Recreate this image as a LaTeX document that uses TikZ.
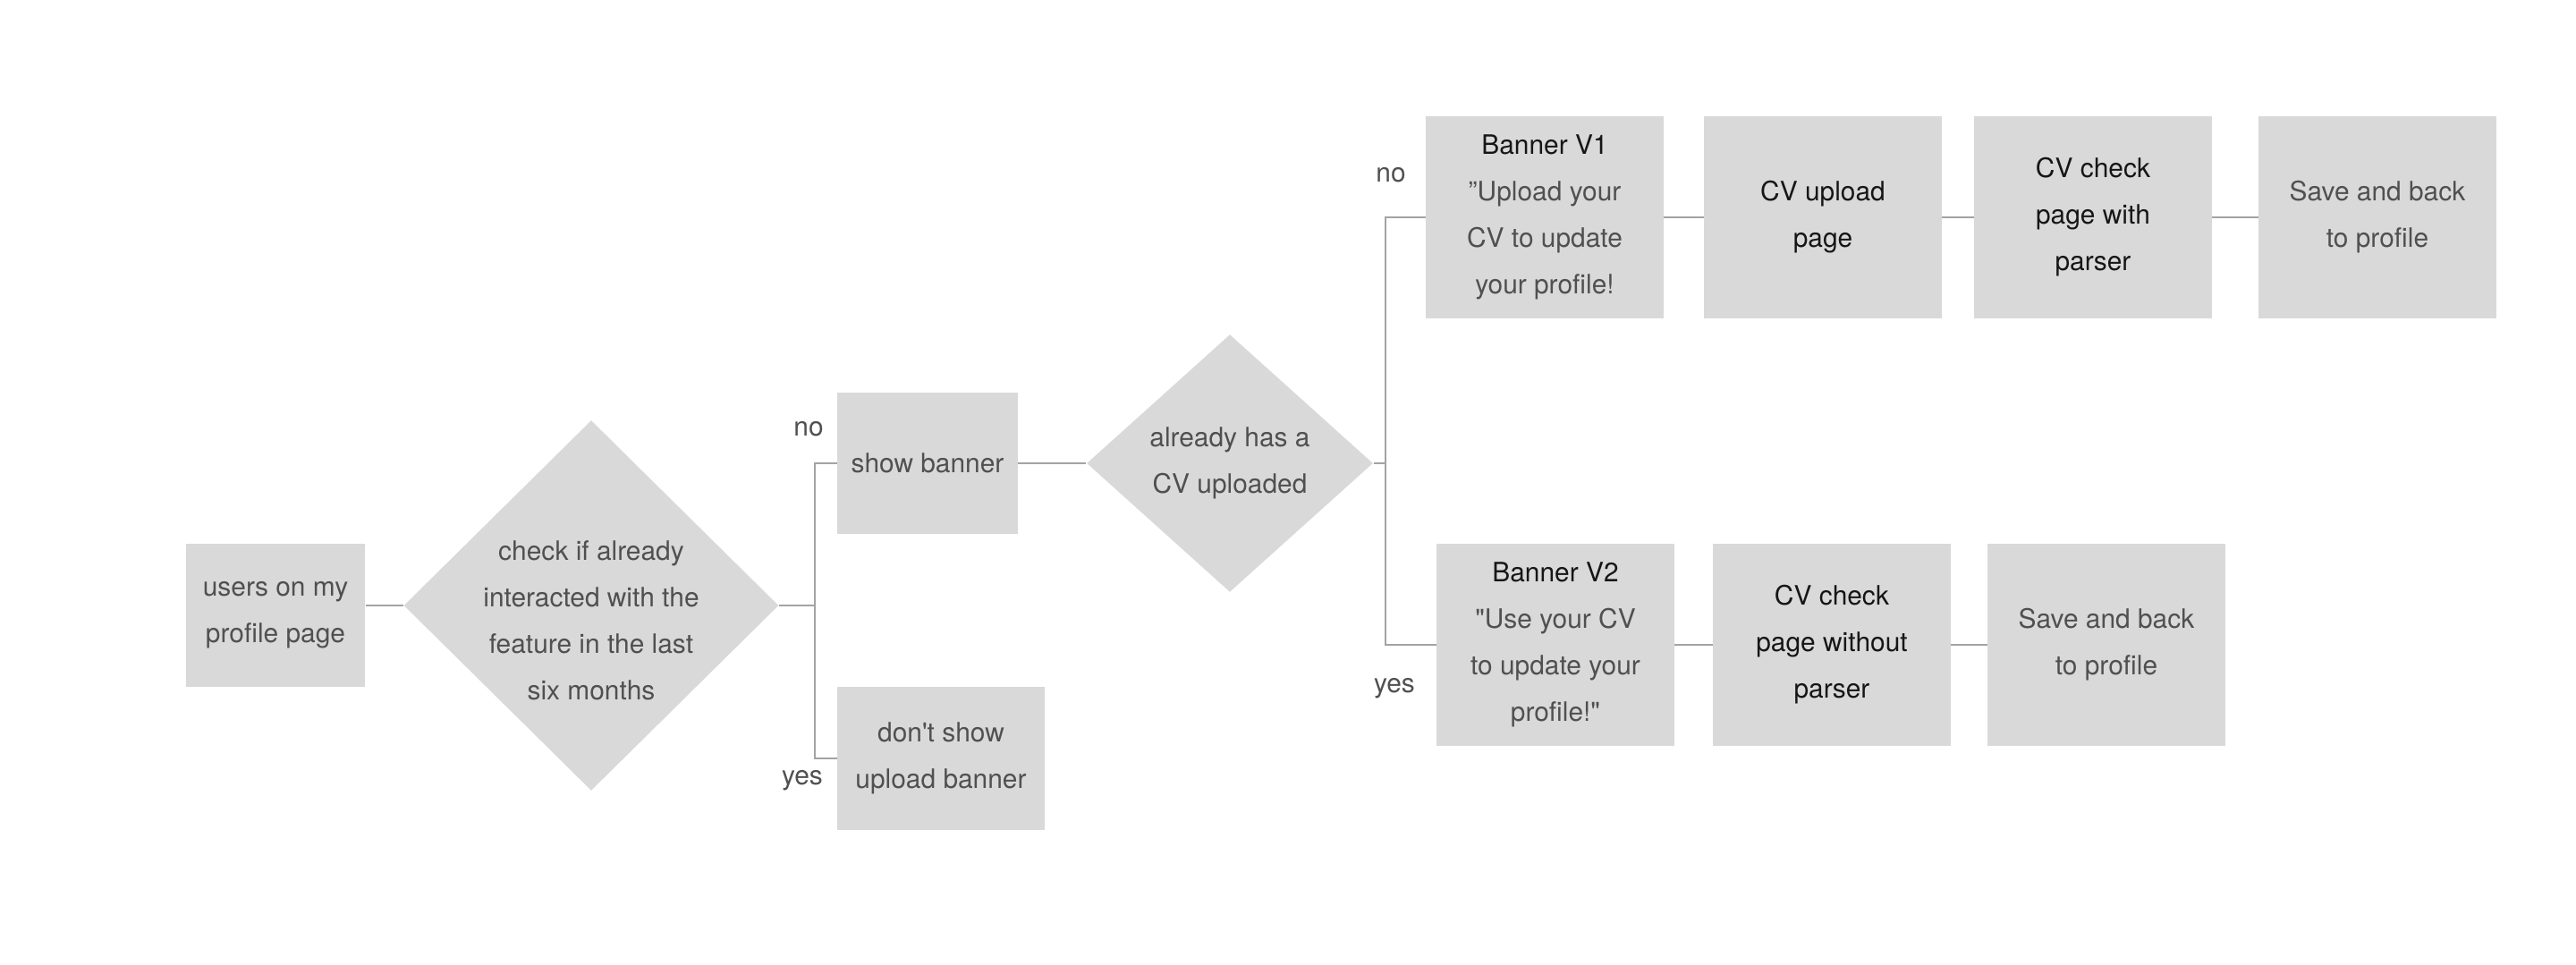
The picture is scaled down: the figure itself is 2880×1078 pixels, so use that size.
\documentclass[tikz,border=0pt]{standalone}
\usepackage{fontspec}
\setmainfont{TeX Gyre Heros}
\usetikzlibrary{shapes.geometric,positioning}
\definecolor{boxfill}{HTML}{D9D9D9}
\definecolor{linegray}{HTML}{A3A3A3}
\definecolor{lighttext}{HTML}{505050}
\definecolor{darktext}{HTML}{161616}

\begin{document}
\begin{tikzpicture}[x=0.01cm,y=-0.01cm,
	every node/.style={font=\fontsize{8.5}{14.8}\selectfont,text=lighttext},
	box/.style={fill=boxfill,align=center,inner sep=0pt,minimum width=2.65cm,minimum height=2.26cm},
	choice/.style={diamond,fill=boxfill,align=center,inner sep=0pt},
	link/.style={draw=linegray,line width=0.6pt}]
\useasboundingbox (0,0) rectangle (2880,1078);

\node[box,minimum width=2cm,minimum height=1.6cm] (users) at (308,688) {users on my\\profile page};
\node[choice,minimum width=4.19cm,minimum height=4.14cm,
	label={[align=center,yshift=-0.17cm]center:check if already\\interacted with the\\feature in the last\\six months}] (check) at (661,677) {};
\node[box,minimum width=2.01cm,minimum height=1.58cm] (show) at (1037,518) {show banner};
\node[box,minimum width=2.31cm,minimum height=1.59cm] (noshow) at (1052,848) {don\textquotesingle t show\\upload banner};
\node[choice,minimum width=3.2cm,minimum height=2.88cm] (hascv) at (1375,518) {already has a\\CV uploaded};

\node[box] (v1) at (1727,243) {\color{darktext}Banner V1\\”Upload your\\CV to update\\your profile!};
\node[box] (upload) at (2038,243) {\color{darktext}CV upload\\\color{darktext}page};
\node[box] (parse) at (2340,243) {\color{darktext}CV check\\\color{darktext}page with\\\color{darktext}parser};
\node[box] (save1) at (2658,243) {Save and back\\to profile};

\node[box] (v2) at (1739,721) {\color{darktext}Banner V2\\\textquotedbl Use your CV\\to update your\\profile!\textquotedbl};
\node[box] (noparse) at (2048,721) {\color{darktext}CV check\\\color{darktext}page without\\\color{darktext}parser};
\node[box] (save2) at (2355,721) {Save and back\\to profile};

\node (no1) at (904,480) {no};
\node (yes1) at (897,873) {yes};
\node (no2) at (1555,196) {no};
\node (yes2) at (1559,770) {yes};

\draw[link] (check.west -| users.east) -- (check.west);
\draw[link] (check.east) -- ++(40,0) coordinate (split1);
\draw[link] (split1) |- (show.west);
\draw[link] (split1) |- (noshow.west);
\draw[link] (show.east) -- (hascv.west);
\draw[link] (hascv.east) -- ++(13,0) coordinate (split2);
\draw[link] (split2) |- (v1.west);
\draw[link] (split2) |- (v2.west);
\draw[link] (v1) -- (upload);
\draw[link] (upload) -- (parse);
\draw[link] (parse) -- (save1);
\draw[link] (v2) -- (noparse);
\draw[link] (noparse) -- (save2);
\end{tikzpicture}
\end{document}
